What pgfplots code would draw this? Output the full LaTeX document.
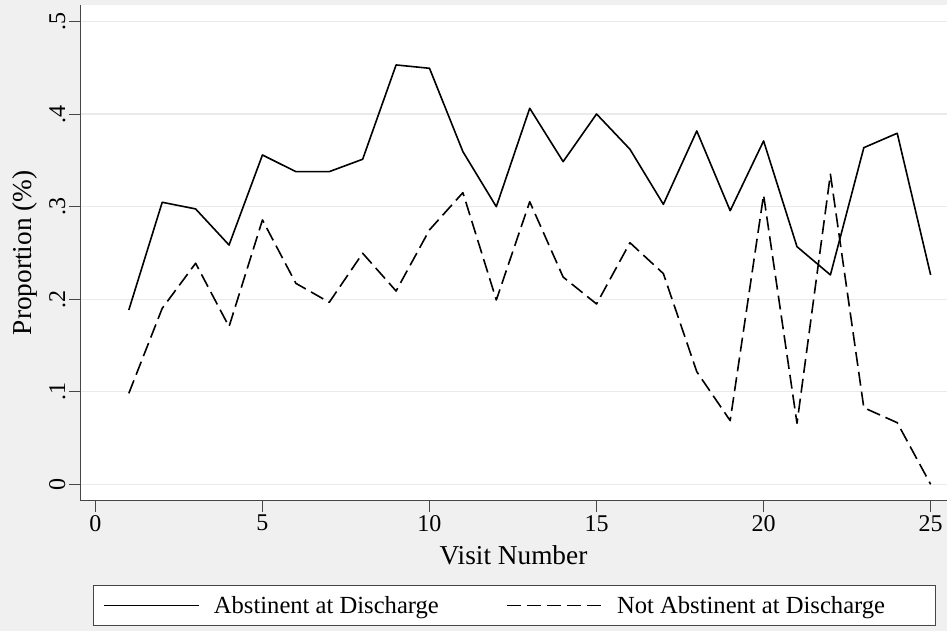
\documentclass[border=0pt]{standalone}
\usepackage{fontspec}
\setmainfont{Liberation Serif}
\usepackage{pgfplots}
\pgfplotsset{compat=1.18}
\definecolor{bg}{RGB}{240,240,240}
\definecolor{gridc}{RGB}{234,234,234}
\definecolor{axc}{RGB}{70,70,70}
\begin{document}
\begin{tikzpicture}
\useasboundingbox (0pt,0pt) rectangle (947pt,631pt);
\clip (0pt,0pt) rectangle (947pt,631pt);
\fill[bg] (0pt,0pt) rectangle (947pt,631pt);
\begin{axis}[
  at={(80pt,130.3pt)}, anchor=south west,
  scale only axis, width=867pt, height=495.7pt,
  xmin=-0.461, xmax=25.49, ymin=-0.0177, ymax=0.518,
  axis lines=left, axis line style={-, draw=axc, line width=1pt},
  axis background/.style={fill=white},
  xtick={0,5,10,15,20,25}, ytick={0,0.1,0.2,0.3,0.4,0.5},
  yticklabels={0,.1,.2,.3,.4,.5},
  /pgf/number format/assume math mode=true,
  tick align=outside, major tick length=11pt,
  tick style={draw=axc, line width=1pt},
  ymajorgrids, major grid style={draw=gridc, line width=1.4pt},
  xticklabel style={font=\fontsize{24}{28}\selectfont},
  yticklabel style={font=\fontsize{24}{28}\selectfont, rotate=90, anchor=south},
  xlabel={Visit Number},
  ylabel={Proportion (\%)},
  xlabel style={font=\fontsize{27.3}{32}\selectfont, at={(axis description cs:0.5,-0.1297)}, anchor=base},
  ylabel style={font=\fontsize{27.3}{32}\selectfont, at={(axis description cs:-0.0554,0.5)}, anchor=base},
  legend columns=2,
  legend style={at={(axis description cs:0.0150,-0.1701)}, anchor=north west,
    draw=axc, line width=1pt, fill=white, font=\fontsize{24.6}{29}\selectfont,
    inner xsep=10pt, inner ysep=8.5pt,
    /tikz/every odd column/.append style={column sep=11.8pt},
    /tikz/every even column/.append style={column sep=65.8pt}},
  legend image code/.code={\draw[#1] (0pt,0pt) -- (95pt,0pt);},
]
\addplot[black, line width=1.6pt, line join=round] coordinates {
(1,0.1884) (2,0.3048) (3,0.2976) (4,0.2586) (5,0.3559) (6,0.3379) (7,0.3379)
(8,0.3513) (9,0.4532) (10,0.4496) (11,0.3595) (12,0.3000) (13,0.4064) (14,0.3487)
(15,0.4002) (16,0.3621) (17,0.3026) (18,0.3819) (19,0.2957) (20,0.3711) (21,0.2568)
(22,0.2263) (23,0.3638) (24,0.3794) (25,0.2263)};
\addlegendentry{Abstinent at Discharge}
\addplot[black, line width=1.6pt, line join=round, dash pattern=on 14pt off 6pt] coordinates {
(1,0.0983) (2,0.1902) (3,0.2389) (4,0.1704) (5,0.2857) (6,0.2172) (7,0.1967)
(8,0.2497) (9,0.2089) (10,0.2750) (11,0.3152) (12,0.1992) (13,0.3054) (14,0.2240)
(15,0.1949) (16,0.2611) (17,0.2277) (18,0.1217) (19,0.0688) (20,0.3127) (21,0.0659)
(22,0.3351) (23,0.0828) (24,0.0666) (25,0.0000)};
\addlegendentry{Not Abstinent at Discharge\hspace{38pt}\rule[-22pt]{0pt}{1pt}}
\end{axis}
\end{tikzpicture}
\end{document}
